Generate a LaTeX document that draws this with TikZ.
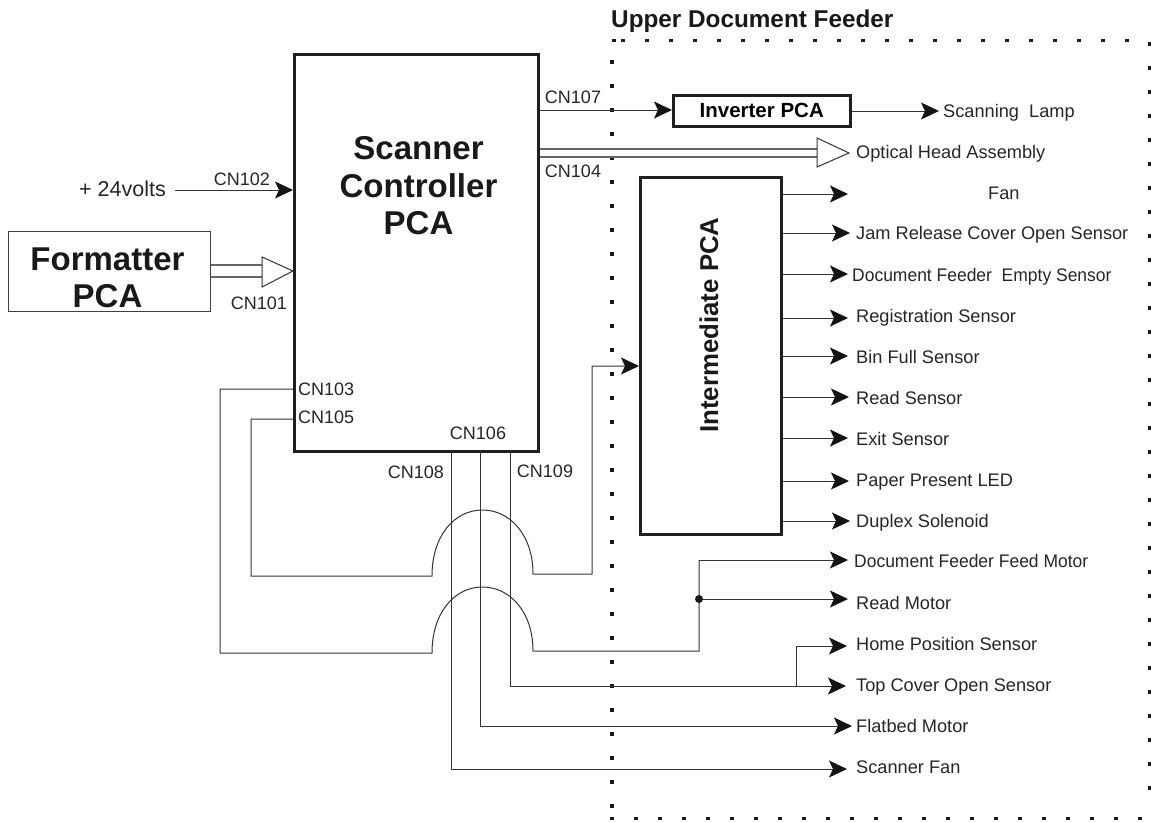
\documentclass[tikz,border=0pt]{standalone}
\usepackage{fontspec}
\setmainfont{Liberation Sans}
\usetikzlibrary{arrows.meta,calc}
\begin{document}
\begin{tikzpicture}[x=1pt,y=-1pt,
  tipstyle/.style={-{Stealth[length=18pt,width=17pt,inset=4pt,color=black!92]}},
  thinline/.style={draw=black!80,line width=1pt},
  arrowline/.style={thinline,tipstyle},
  heavy/.style={draw=black!88,line width=2.5pt,fill=white,inner sep=0pt,align=center},
  lab/.style={font=\fontsize{18.2}{20}\selectfont,inner sep=0pt,text=black!85,anchor=west,text height=12pt,text depth=0pt},
  cn/.style={font=\fontsize{18}{20}\selectfont,inner sep=0pt,text=black!85,text height=12pt,text depth=0pt},
  big/.style={font=\fontsize{33}{37.5}\selectfont\bfseries,text=black!90},
  hollow/.style={draw=black!80,line width=1pt,fill=white},
  bus/.style={draw=black!60,line width=1.5pt}]
\useasboundingbox (0,0) rectangle (1153,822);

% dotted boundary
\foreach \x in {623,647,...,1130} \fill[black!90] (\x-1.6,38.5) rectangle (\x+1.6,41.7);
\fill[black!90] (612,38.5) rectangle (616,41.7);
\foreach \y in {62,86,...,806} \fill[black!90] (610.4,\y-1.6) rectangle (613.6,\y+1.6);
\foreach \y in {44,68,...,810} \fill[black!90] (1147.8,\y-1.6) rectangle (1151,\y+1.6);
\foreach \x in {612,636,...,1140} \fill[black!90] (\x-1.6,817) rectangle (\x+1.6,820.2);
\node[inner sep=0pt,anchor=west,font=\fontsize{24.3}{26}\selectfont\bfseries,text=black!90] (udf) at (611,21) {Upper Document Feeder};

% main boxes
\node[heavy,anchor=north west,minimum width=244pt,minimum height=397pt] (scanner) at (293,53) {};
\node[big,align=center,anchor=center,inner sep=0pt] (scannertext) at (418.5,186) {Scanner\\Controller\\PCA};
\node[draw=black!75,line width=1.2pt,anchor=north west,minimum width=202pt,minimum height=80pt,inner sep=0pt] (formatter) at (8,231) {};
\node[big,align=center,anchor=center,inner sep=0pt] (formattertext) at (107.5,278) {Formatter\\PCA};
\node[heavy,anchor=north west,minimum width=177pt,minimum height=31pt,font=\fontsize{20.5}{24}\selectfont\bfseries] (inverter) at (672,94) {Inverter PCA};
\node[heavy,anchor=north west,minimum width=141pt,minimum height=357pt] (inter) at (639,176) {};
\node[rotate=90,font=\fontsize{25.8}{28}\selectfont\bfseries,text=black!90,inner sep=0pt] (intertext) at (709,325) {Intermediate PCA};

% output labels
\node[lab] (lamp) at (943,111) {Scanning\ \ Lamp};
\node[lab] (optical) at (856,152) {Optical Head Assembly};
\node[lab] (fan) at (988,193) {Fan};
\node[lab] (jam) at (856,233) {Jam Release Cover Open Sensor};
\node[lab,xscale=.96] (empty) at (852,275) {Document Feeder\ \ Empty Sensor};
\node[lab] (reg) at (856,316) {Registration Sensor};
\node[lab] (bin) at (856,357) {Bin Full Sensor};
\node[lab] (read) at (856,398) {Read Sensor};
\node[lab] (exit) at (856,439) {Exit Sensor};
\node[lab] (paper) at (856,480) {Paper Present LED};
\node[lab] (duplex) at (856,521) {Duplex Solenoid};
\node[lab,xscale=.96] (feed) at (854,561) {Document Feeder Feed Motor};
\node[lab] (readm) at (856,603) {Read Motor};
\node[lab] (home) at (856,644) {Home Position Sensor};
\node[lab] (top) at (856,685) {Top Cover Open Sensor};
\node[lab] (flat) at (856,726) {Flatbed Motor};
\node[lab] (fanb) at (856,767) {Scanner Fan};
\node[font=\fontsize{21.5}{22}\selectfont,inner sep=0pt,text=black!85,anchor=west] (volts) at (79,189) {+ 24volts};

% connector labels
\node[cn] (cn107) at (573,97) {CN107};
\node[cn] (cn104) at (573,171) {CN104};
\node[cn] (cn102) at (242,179) {CN102};
\node[cn] (cn101) at (259,303) {CN101};
\node[cn,anchor=west] (cn103) at (298,389) {CN103};
\node[cn,anchor=west] (cn105) at (298,417) {CN105};
\node[cn] (cn106) at (478,433) {CN106};
\node[cn] (cn108) at (416,472) {CN108};
\node[cn] (cn109) at (545,471) {CN109};

% free ends of arrows
\coordinate (lampE) at (939,111);
\coordinate (voltsS) at (175,190);
\foreach \n/\x/\y in {fanE/848/194,jamE/850/233,emptyE/848/274,regE/848/318,binE/848/356,readE/849/397,exitE/848/438,paperE/849/481,duplexE/850/521,feedE/848/560,readmE/848/599,homeE/847/646,topE/846/686,flatE/852/726,fanbE/847/769}
  \coordinate (\n) at (\x,\y);

% simple arrows
\draw[arrowline] (voltsS) -- (scanner.west |- voltsS);
\coordinate (invIn) at (660,110);
\draw[arrowline] (scanner.east |- invIn) -- (inverter.west |- invIn);
\draw[arrowline] (inverter.east |- lampE) -- (lampE);
\foreach \n in {fan,jam,empty,reg,bin,read,exit,paper,duplex}
  \draw[arrowline] (inter.east |- \n E) -- (\n E);

% buses
\coordinate (optT) at (849,153);
\coordinate (fmtT) at (293,271);
\draw[bus] (scanner.east |- 0,149) -- (818,149);
\draw[bus] (scanner.east |- 0,157) -- (818,157);
\draw[hollow] (817,138) -- (817,167) -- (optT) -- cycle;
\draw[bus] (formatter.east |- 0,265) -- (263,265);
\draw[bus] (formatter.east |- 0,277) -- (263,277);
\draw[hollow] (262,257) -- (262,287) -- (fmtT) -- cycle;

% routed wires
\coordinate (a1) at (432,576);
\coordinate (a2) at (533,574);
\coordinate (b1) at (432,653);
\coordinate (b2) at (533,651);
\draw[arrowline] (scanner.west |- 0,419) -- (251,419) -- (251,576) -- (a1)
  .. controls (432,535) and (455,510) .. (482.5,510) .. controls (510,510) and (533,535) .. (a2)
  -- (592,574) -- (592,366) -- (inter.west |- 0,366);
\draw[thinline] (scanner.west |- 0,389) -- (220,389) -- (220,653) -- (b1)
  .. controls (432,612) and (455,587) .. (482.5,587) .. controls (510,587) and (533,612) .. (b2)
  -- (699,651) -- (699,560);
\draw[arrowline] (699,560) -- (feedE);
\draw[arrowline] (699,599) -- (readmE);
\node[circle,fill=black!90,minimum size=8pt,inner sep=0pt] (joint) at (699,599) {};
\draw[arrowline] (510.5,450) -- (510.5,686) -- (topE);
\coordinate (homeJ) at (796.5,646);
\draw[thinline] (homeJ |- topE) -- (homeJ);
\draw[arrowline] (homeJ) -- (homeE);
\draw[arrowline] (480.5,450) -- (480.5,726) -- (flatE);
\draw[arrowline] (451.5,450) -- (451.5,769) -- (fanbE);
\end{tikzpicture}
\end{document}
